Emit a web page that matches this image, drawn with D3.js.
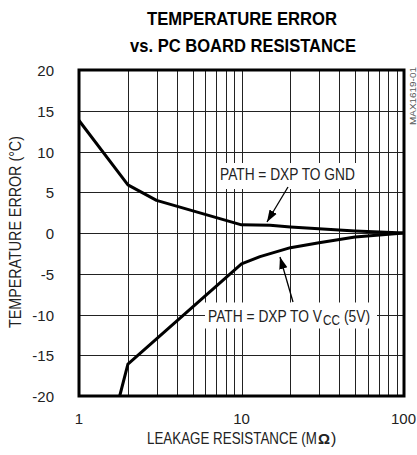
<!DOCTYPE html>
<html>
<head>
<meta charset="utf-8">
<script src="https://cdnjs.cloudflare.com/ajax/libs/d3/7.8.5/d3.min.js"></script>
<style>
  body { margin: 0; background: #fff; }
  svg { display: block; }
  text { font-family: "Liberation Sans Narrow", "Arial Narrow", "Liberation Sans", sans-serif; fill: #222; }
</style>
</head>
<body>
<svg></svg>
<script>
// data
var xTicks = [1, 10, 100];
var yTicks = [-20, -15, -10, -5, 0, 5, 10, 15, 20];
var gndX = [1, 2, 3, 10, 15, 20, 50, 100];
var gndY = [13.8, 5.9, 4.0, 1.0, 0.95, 0.75, 0.25, 0];
var vccX = [1.78, 2, 10, 13, 20, 30, 50, 100];
var vccY = [-20, -16.1, -3.8, -2.9, -1.8, -1.2, -0.5, 0];

var width = 417, height = 455,
    margin = {top: 70, right: 13, bottom: 59, left: 79};

var svg = d3.select("svg").attr("width", width).attr("height", height);

var x = d3.scaleLog().domain([1, 100]).range([margin.left, width - margin.right]);
var y = d3.scaleLinear().domain([-20, 20]).range([height - margin.bottom, margin.top]);

// squeeze text horizontally to the narrow width seen in the reference
function squeeze(sel, w) {
  var len = sel.node().getComputedTextLength();
  var tx = +sel.attr("x") || 0, ty = +sel.attr("y") || 0;
  var base = sel.attr("transform") || "translate(" + tx + "," + ty + ")";
  if (!sel.attr("transform")) sel.attr("x", 0).attr("y", 0);
  return sel.attr("transform", base + " scale(" + (w / len) + ",1)");
}

// minor log grid
var gridX = [];
[1, 10].forEach(function(d) { for (var i = 2; i <= 9; i++) gridX.push(d * i); });
gridX.push(10);

var g = svg.append("g");

g.selectAll(".vgrid").data(gridX).join("line")
    .attr("x1", d => Math.round(x(d)) + 0.5).attr("x2", d => Math.round(x(d)) + 0.5)
    .attr("y1", y(20)).attr("y2", y(-20))
    .attr("stroke", "#222").attr("stroke-width", 1);

g.selectAll(".hgrid").data(yTicks.slice(1, -1)).join("line")
    .attr("x1", x(1)).attr("x2", x(100))
    .attr("y1", d => Math.round(y(d)) + 0.5).attr("y2", d => Math.round(y(d)) + 0.5)
    .attr("stroke", "#222").attr("stroke-width", 1);

// label boxes (white background)
function label(cx, cy, w, h) {
  g.append("rect").attr("x", cx - w / 2).attr("y", cy - h / 2)
    .attr("width", w).attr("height", h).attr("fill", "#fff");
}

var line = d3.line().x(d => x(d[0])).y(d => y(d[1]));

g.append("path").datum(d3.zip(gndX, gndY))
    .attr("d", line).attr("fill", "none")
    .attr("stroke", "#000").attr("stroke-width", 3).attr("stroke-linejoin", "round");
g.append("path").datum(d3.zip(vccX, vccY))
    .attr("d", line).attr("fill", "none")
    .attr("stroke", "#000").attr("stroke-width", 3).attr("stroke-linejoin", "round");

// labels
label(288, 176, 142, 26);
squeeze(g.append("text").attr("x", 220).attr("y", 180)
    .style("font-size", "17px").text("PATH = DXP TO GND"), 135);

label(291, y(-10) + 1, 172, 26);
squeeze(g.append("text").attr("x", 208).attr("y", 322)
    .style("font-size", "17px").text("PATH = DXP TO V"), 114);
squeeze(g.append("text").attr("x", 323).attr("y", 325)
    .style("font-size", "14px").text("CC"), 17);
squeeze(g.append("text").attr("x", 344).attr("y", 322)
    .style("font-size", "17px").text("(5V)"), 26);

// arrows
svg.append("defs").append("marker")
    .attr("id", "ah").attr("viewBox", "0 0 10 10")
    .attr("refX", 10).attr("refY", 5)
    .attr("markerWidth", 12).attr("markerHeight", 12)
    .attr("markerUnits", "userSpaceOnUse")
    .attr("orient", "auto")
  .append("path").attr("d", "M0,1.5 L10,5 L0,8.5 Z").attr("fill", "#000");

g.append("line").attr("x1", 288).attr("y1", 187).attr("x2", 267).attr("y2", 222)
    .attr("stroke", "#000").attr("stroke-width", 1.3).attr("marker-end", "url(#ah)");
g.append("line").attr("x1", 293).attr("y1", 302).attr("x2", 280).attr("y2", 257)
    .attr("stroke", "#000").attr("stroke-width", 1.3).attr("marker-end", "url(#ah)");

// frame
g.append("rect").attr("x", x(1)).attr("y", y(20))
    .attr("width", x(100) - x(1)).attr("height", y(-20) - y(20))
    .attr("fill", "none").attr("stroke", "#000").attr("stroke-width", 3);

// ticks
svg.selectAll(".ylab").data(yTicks).join("text")
    .attr("x", 54).attr("y", d => y(d) + 6)
    .attr("text-anchor", "end").style("font-size", "15px")
    .text(d => d);

svg.selectAll(".xlab").data(xTicks).join("text")
    .attr("x", d => d === 100 ? 416 : x(d))
    .attr("y", 424)
    .attr("text-anchor", d => d === 100 ? "end" : "middle").style("font-size", "15px")
    .text(d => d);

// axis titles
squeeze(svg.append("text").attr("x", 147).attr("y", 444)
    .style("font-size", "16px").text("LEAKAGE RESISTANCE (M"), 170);
svg.append("text").attr("x", 318).attr("y", 444)
    .style("font-size", "15px").style("font-weight", "bold")
    .style("font-family", "Liberation Sans").text("\u03A9");
svg.append("text").attr("x", 331).attr("y", 444)
    .style("font-size", "16px").text(")");

squeeze(svg.append("text").attr("transform", "translate(21,232) rotate(-90)")
    .attr("text-anchor", "middle").style("font-size", "16px")
    .text("TEMPERATURE ERROR (\u00B0C)"), 192);

// title
squeeze(svg.append("text").attr("x", 242).attr("y", 25).attr("text-anchor", "middle")
    .style("font-size", "19px").style("font-weight", "bold").style("fill", "#000")
    .text("TEMPERATURE ERROR"), 190);
squeeze(svg.append("text").attr("x", 243).attr("y", 52).attr("text-anchor", "middle")
    .style("font-size", "19px").style("font-weight", "bold").style("fill", "#000")
    .text("vs. PC BOARD RESISTANCE"), 226);

// part number
squeeze(svg.append("text").attr("transform", "translate(416,125) rotate(-90)")
    .attr("text-anchor", "start").style("font-size", "9px").style("fill", "#555")
    .text("MAX1619-01"), 58);
</script>
</body>
</html>
